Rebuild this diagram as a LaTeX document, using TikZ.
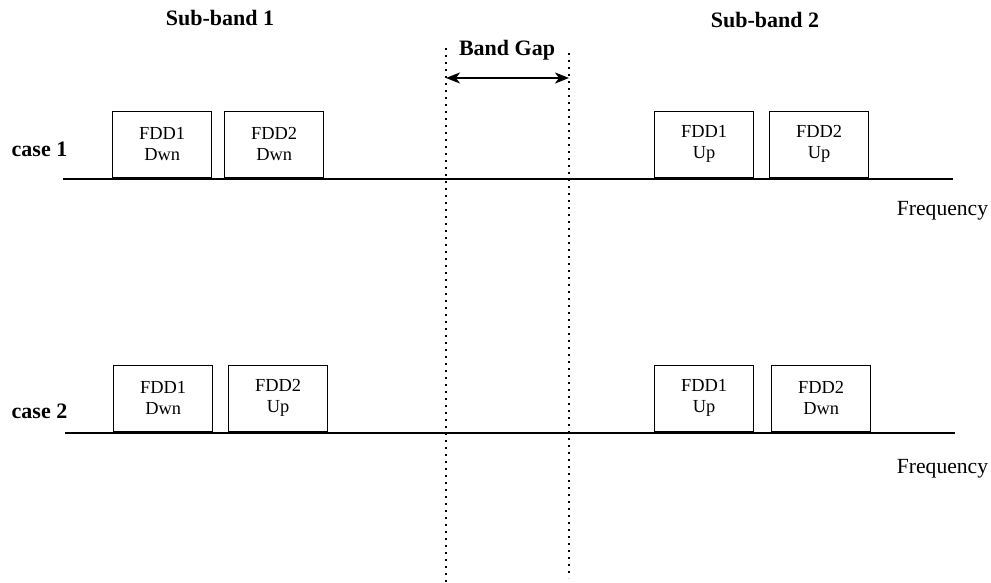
\documentclass[tikz,border=0pt]{standalone}
\usepackage{fontspec}
\setmainfont{Liberation Serif}
\usetikzlibrary{arrows.meta}
\begin{document}
\begin{tikzpicture}[x=1pt,y=-1pt,
  band/.style={draw,line width=1.3pt,minimum width=99pt,minimum height=66pt,anchor=south west,inner sep=0pt,align=center,font=\fontsize{18.4}{21}\selectfont},
  axis/.style={line width=1.3pt},
  gap/.style={line width=1.6pt,dash pattern=on 1.6pt off 5.4pt},
  lbl/.style={font=\fontsize{22}{26}\selectfont\bfseries,inner sep=0pt},
  freq/.style={font=\fontsize{21.6}{26}\selectfont,inner sep=0pt},
  gaparrow/.style={line width=1.6pt,{Stealth[length=14pt,width=11pt,inset=4pt]}-{Stealth[length=14pt,width=11pt,inset=4pt]}}]
\useasboundingbox (0,0) rectangle (991,583);
% titles
\node[lbl] (sb1) at (220,18) {Sub-band 1};
\node[lbl] (sb2) at (765,20) {Sub-band 2};
\node[lbl] (bg) at (507,50) {Band Gap};
% band gap lines
\coordinate (g1t) at (446,48); \coordinate (g1b) at (446,583);
\coordinate (g2t) at (569,53); \coordinate (g2b) at (569,578);
\draw[gap] (g1t) -- (g1b);
\draw[gap] (g2t) -- (g2b);
\coordinate (a1) at (446,78); \coordinate (a2) at (569,78);
\draw[gaparrow] (a1) -- (a2);
% case 1
\node[lbl] (c1) at (39.5,149) {case 1};
\coordinate (l1a) at (63,179); \coordinate (l1b) at (953,179);
\draw[axis] (l1a) -- (l1b);
\node[band] (b11) at (112,178) {FDD1\\Dwn};
\node[band] (b12) at (224,178) {FDD2\\Dwn};
\node[band] (b13) at (654,178) {FDD1\\Up};
\node[band] (b14) at (769,178) {FDD2\\Up};
\node[freq] (f1) at (942.5,211) {Frequency};
% case 2
\node[lbl] (c2) at (39.5,411) {case 2};
\coordinate (l2a) at (65,433); \coordinate (l2b) at (955,433);
\draw[axis] (l2a) -- (l2b);
\node[band] (b21) at (113,432) {FDD1\\Dwn};
\node[band] (b22) at (228,432) {FDD2\\Up};
\node[band] (b23) at (654,432) {FDD1\\Up};
\node[band] (b24) at (771,432) {FDD2\\Dwn};
\node[freq] (f2) at (942.5,469) {Frequency};
\end{tikzpicture}
\end{document}
